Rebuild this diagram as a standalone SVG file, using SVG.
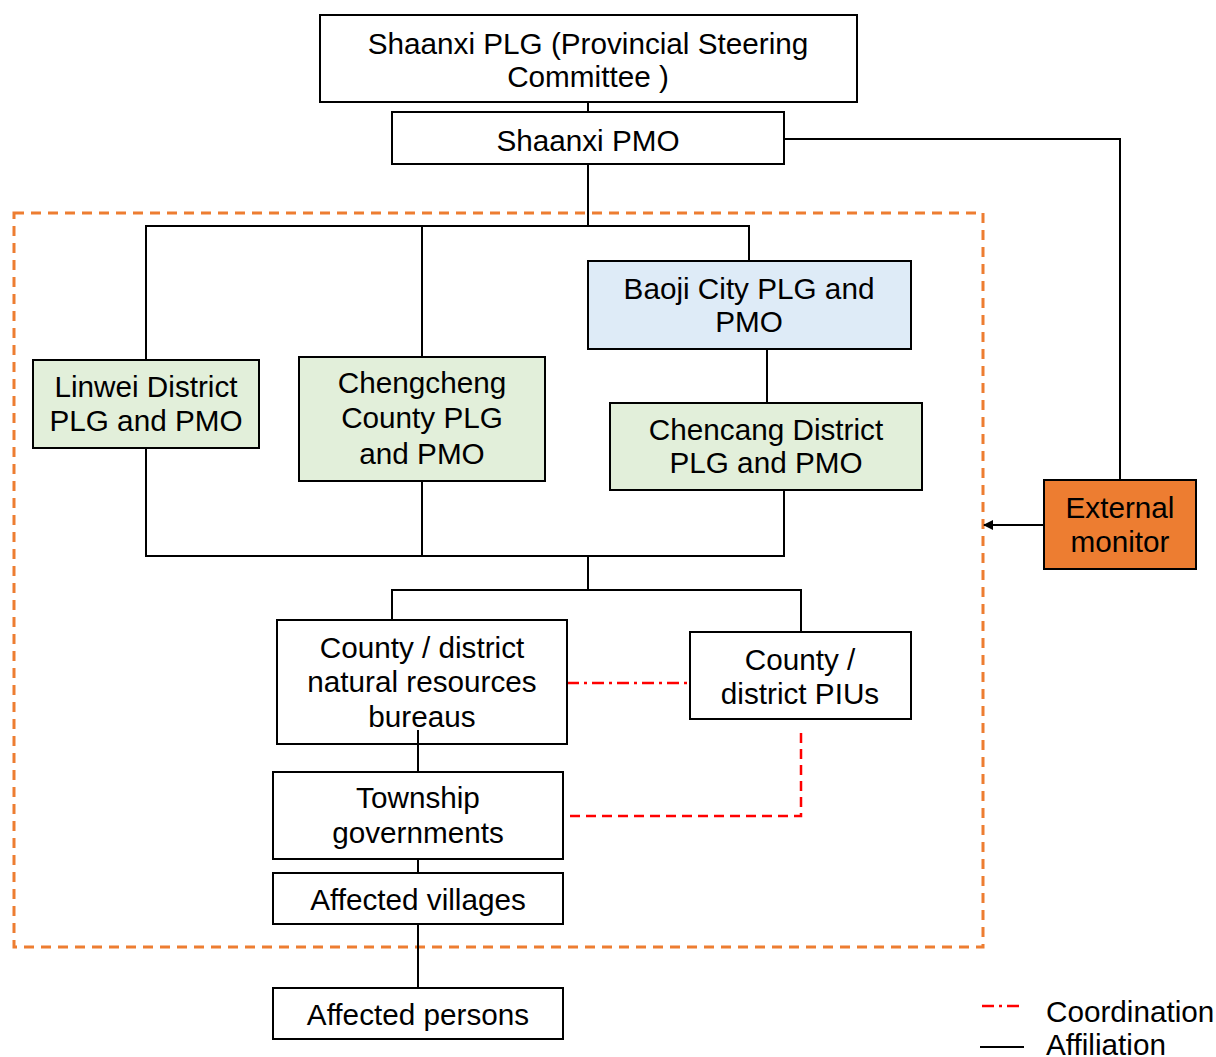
<svg xmlns="http://www.w3.org/2000/svg" width="1216" height="1057" viewBox="0 0 1216 1057">
<style>
.box{fill:#fff;stroke:#000;stroke-width:2}
.green{fill:#E2EFDA}
.blue{fill:#DEEBF7}
.orange{fill:#ED7D31}
.t{font-family:"Liberation Sans",Arial,sans-serif;font-size:29.7px;fill:#000;text-anchor:middle}
.lg{font-family:"Liberation Sans",Arial,sans-serif;font-size:29.7px;fill:#000}
.aff{fill:none;stroke:#000;stroke-width:2}
.coord1{fill:none;stroke:#FF0000;stroke-width:2.5;stroke-dasharray:12,5,3,5}
.coord2{fill:none;stroke:#FF0000;stroke-width:2.5;stroke-dasharray:10,6}
.scope{fill:none;stroke:#ED7D31;stroke-width:3;stroke-dasharray:10,7}
</style>
<defs>
<marker id="arr" markerWidth="10" markerHeight="10" refX="9" refY="5" orient="auto" markerUnits="userSpaceOnUse">
<path d="M0,0 L10,5 L0,10 z" fill="#000"/>
</marker>
</defs>
<rect id="scope" class="scope" x="14" y="213" width="969" height="734"/>
<g id="connectors">
<path class="aff" d="M588,102 V112"/>
<path class="aff" d="M588,164 V225"/>
<path class="aff" d="M146,360 V226 H749 V261"/>
<path class="aff" d="M422,226 V357"/>
<path class="aff" d="M767,349 V403"/>
<path class="aff" d="M146,448 V556 H784 V490"/>
<path class="aff" d="M422,481 V556"/>
<path class="aff" d="M588,556 V590"/>
<path class="aff" d="M392,620 V590 H801 V632"/>
<path class="aff" d="M418,730 V772"/>
<path class="aff" d="M418,859 V873"/>
<path class="aff" d="M418,924 V988"/>
<path class="aff" d="M784,139 H1120 V480"/>
<path class="aff" d="M1044,525 H984" marker-end="url(#arr)"/>
<path class="coord1" d="M567,683 H690"/>
<path class="coord2" d="M801,733 V816 H563"/>
</g>
<g id="plg">
<rect class="box" x="320" y="15" width="537" height="87"/>
<text class="t" x="588" y="54">Shaanxi PLG (Provincial Steering</text>
<text class="t" x="588" y="87">Committee )</text>
</g>
<g id="pmo">
<rect class="box" x="392" y="112" width="392" height="52"/>
<text class="t" x="588" y="151">Shaanxi PMO</text>
</g>
<g id="linwei">
<rect class="box green" x="33" y="360" width="226" height="88"/>
<text class="t" x="146" y="397">Linwei District</text>
<text class="t" x="146" y="431">PLG and PMO</text>
</g>
<g id="chengcheng">
<rect class="box green" x="299" y="357" width="246" height="124"/>
<text class="t" x="422" y="393">Chengcheng</text>
<text class="t" x="422" y="428">County PLG</text>
<text class="t" x="422" y="464">and PMO</text>
</g>
<g id="baoji">
<rect class="box blue" x="588" y="261" width="323" height="88"/>
<text class="t" x="749" y="299">Baoji City PLG and</text>
<text class="t" x="749" y="332">PMO</text>
</g>
<g id="chencang">
<rect class="box green" x="610" y="403" width="312" height="87"/>
<text class="t" x="766" y="440">Chencang District</text>
<text class="t" x="766" y="473">PLG and PMO</text>
</g>
<g id="monitor">
<rect class="box orange" x="1044" y="480" width="152" height="89"/>
<text class="t" x="1120" y="518">External</text>
<text class="t" x="1120" y="552">monitor</text>
</g>
<g id="nrb">
<rect class="box" x="277" y="620" width="290" height="124"/>
<text class="t" x="422" y="658">County / district</text>
<text class="t" x="422" y="692">natural resources</text>
<text class="t" x="422" y="727">bureaus</text>
</g>
<path class="aff" d="M418,730 V744"/>
<g id="pius">
<rect class="box" x="690" y="632" width="221" height="87"/>
<text class="t" x="800" y="670">County /</text>
<text class="t" x="800" y="704">district PIUs</text>
</g>
<g id="township">
<rect class="box" x="273" y="772" width="290" height="87"/>
<text class="t" x="418" y="808">Township</text>
<text class="t" x="418" y="843">governments</text>
</g>
<g id="villages">
<rect class="box" x="273" y="873" width="290" height="51"/>
<text class="t" x="418" y="910">Affected villages</text>
</g>
<g id="persons">
<rect class="box" x="273" y="988" width="290" height="51"/>
<text class="t" x="418" y="1025">Affected persons</text>
</g>
<g id="legend">
<path class="coord1" d="M982,1006 H1022"/>
<text class="lg" x="1046" y="1022">Coordination</text>
<path class="aff" d="M980,1047 H1024"/>
<text class="lg" x="1046" y="1055">Affiliation</text>
</g>
</svg>
